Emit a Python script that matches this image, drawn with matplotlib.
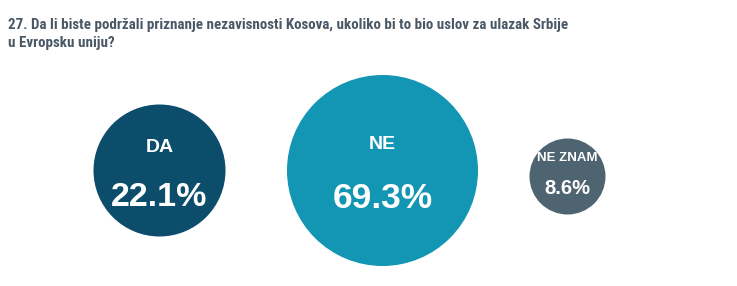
import matplotlib
matplotlib.use("Agg")
import matplotlib.pyplot as plt
from matplotlib.patches import Circle

# ---- data ----
title_lines = ["27. Da li biste podržali priznanje nezavisnosti Kosova, ukoliko bi to bio uslov za ulazak Srbije",
               "u Evropsku uniju?"]
categories = ["DA", "NE", "NE ZNAM"]
values = [22.1, 69.3, 8.6]

# ---- layout / style (pixels) ----
centers_x = [159.5, 382.5, 567.5]
centers_y = [170.5, 170.5, 176.5]
radii = [66, 95.5, 38]
colors = ["#0c4d6c", "#1395b4", "#4e6470"]
label_sizes = [14, 14, 9.5]
value_sizes = [24.5, 25.5, 14.5]
label_base_dy = [-18.5, -21.5, -15.5]
value_base_dy = [35.5, 37.5, 17.5]

W, H = 737, 286
fig = plt.figure(figsize=(W / 100, H / 100), dpi=100)
ax = fig.add_axes([0, 0, 1, 1])
ax.set_xlim(0, W)
ax.set_ylim(H, 0)
ax.set_aspect("equal")
ax.axis("off")

title_font = ["Roboto Condensed", "Liberation Sans"]
title_color = "#4a5866"
ax.text(8, 29, title_lines[0], fontsize=10.8, fontweight="bold", color=title_color,
        family=title_font, ha="left", va="baseline")
ax.text(8, 47, title_lines[1], fontsize=10.8, fontweight="bold", color=title_color,
        family=title_font, ha="left", va="baseline")

for i, (cat, val) in enumerate(zip(categories, values)):
    cx, cy, r = centers_x[i], centers_y[i], radii[i]
    ax.add_patch(Circle((cx, cy), r, facecolor=colors[i], edgecolor="none"))
    ax.text(cx, cy + label_base_dy[i], cat, ha="center", va="baseline", color="white",
            fontsize=label_sizes[i], fontweight="bold", family="Liberation Sans")
    ax.text(cx, cy + value_base_dy[i], f"{val:.1f}%", ha="center", va="baseline", color="white",
            fontsize=value_sizes[i], fontweight="bold", family="Liberation Sans")

fig.savefig("out.png", dpi=100, facecolor="white")
